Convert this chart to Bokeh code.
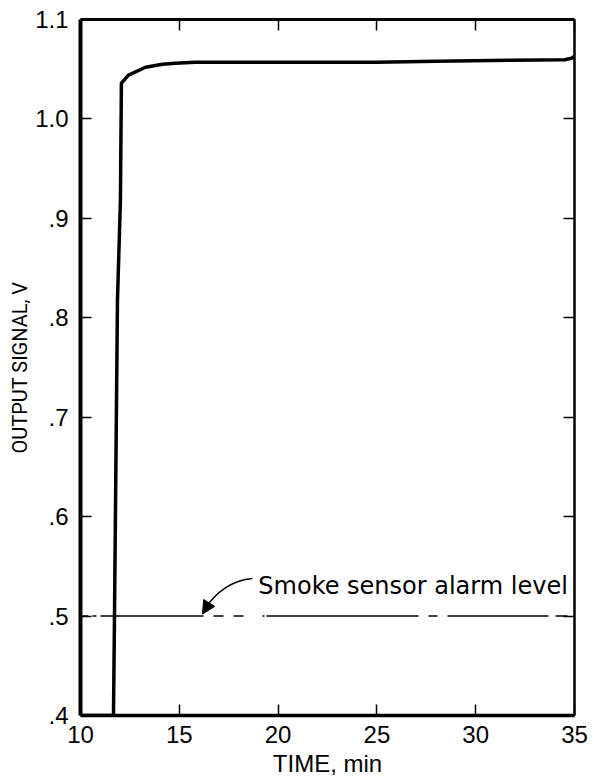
from bokeh.plotting import figure
from bokeh.models import Range1d, LinearAxis, FixedTicker, Arrow, NormalHead
from bokeh.embed import file_html
from bokeh.resources import INLINE
from bokeh.core.properties import value

# ---- data ----
time_min = [10.0, 11.67, 11.72, 11.87, 12.02, 12.07, 12.43, 13.29, 14.15,
            14.81, 15.82, 20.0, 25.0, 28.0, 31.8, 34.5, 34.85, 35.0]
signal_v = [0.400, 0.400, 0.500, 0.817, 0.918, 1.036, 1.044, 1.052, 1.055,
            1.056, 1.057, 1.057, 1.057, 1.058, 1.059, 1.0595, 1.061, 1.063]

alarm_time = [10.1, 35.0]
alarm_level = [0.5, 0.5]

x_ticks = [10, 15, 20, 25, 30, 35]
x_labels = ["10", "15", "20", "25", "30", "35"]
y_ticks = [0.4, 0.5, 0.6, 0.7, 0.8, 0.9, 1.0, 1.1]
y_labels = [".4", ".5", ".6", ".7", ".8", ".9", "1.0", "1.1"]

x_title = "TIME, min"
y_title = "OUTPUT SIGNAL, V"
note_text = "Smoke sensor alarm level"

FONT = "Liberation Sans"

p = figure(frame_width=494, frame_height=696,
           x_range=Range1d(10, 35), y_range=Range1d(0.4, 1.1),
           output_backend="svg", toolbar_location=None,
           min_border_left=80, min_border_right=20,
           min_border_top=19, min_border_bottom=69,
           background_fill_color="white", border_fill_color="white")
p.outline_line_color = None
p.xgrid.visible = False
p.ygrid.visible = False

def style_axis(ax, ticks, labels, lw, show_labels=True):
    ax.ticker = FixedTicker(ticks=ticks)
    ax.major_label_overrides = {t: l for t, l in zip(ticks, labels)}
    ax.axis_line_width = lw
    ax.axis_line_color = "black"
    ax.major_tick_in = 11
    ax.major_tick_out = 0
    ax.major_tick_line_width = 1.5
    ax.major_tick_line_color = "black"
    ax.minor_tick_line_color = None
    ax.major_label_text_font = FONT
    ax.major_label_text_font_size = "24px"
    ax.major_label_text_color = "black"
    if not show_labels:
        ax.major_label_text_font_size = "0px"
        ax.major_label_standoff = 0
        ax.major_label_text_alpha = 0

# bottom / left axes
style_axis(p.xaxis[0], x_ticks, x_labels, 3.5)
p.xaxis[0].major_label_standoff = 10
p.xaxis[0].axis_label = x_title
p.xaxis[0].axis_label_text_font = FONT
p.xaxis[0].axis_label_text_font_size = "24px"
p.xaxis[0].axis_label_text_font_style = "normal"
p.xaxis[0].axis_label_text_color = "black"
p.xaxis[0].axis_label_standoff = 4

style_axis(p.yaxis[0], y_ticks, y_labels, 4)
p.yaxis[0].major_label_standoff = 12
p.yaxis[0].axis_label = y_title
p.yaxis[0].axis_label_text_font = "Roboto"
p.yaxis[0].axis_label_text_font_size = "20px"
p.yaxis[0].axis_label_text_font_style = "normal"
p.yaxis[0].axis_label_text_color = "black"
p.yaxis[0].axis_label_standoff = 0

# top / right axes (frame with inward ticks)
top = LinearAxis()
style_axis(top, x_ticks, x_labels, 3, show_labels=False)
p.add_layout(top, "above")
right = LinearAxis()
style_axis(right, y_ticks, y_labels, 2.5, show_labels=False)
p.add_layout(right, "right")

# alarm level line (irregular hand-drawn dashes)
p.line(alarm_time, alarm_level, line_color="black", line_width=1.5,
       line_dash="6 4 4 4 103 10 10 10 10 19 2 2 152 10 9 10 101 7 12 10")

# signal curve
p.line(time_min, signal_v, line_color="black", line_width=3.5,
       line_join="round")

# annotation with curved arrow
p.text(x=[19.0], y=[0.5307], text=[note_text],
       text_font=value("DejaVu Sans"), text_font_size="24px",
       text_color="black", text_baseline="alphabetic", text_align="left")
p.quadratic(x0=[18.7], y0=[0.5378], x1=[16.25], y1=[0.506],
            cx=[17.2], cy=[0.535], line_color="black", line_width=1.5)
p.add_layout(Arrow(end=NormalHead(size=13, fill_color="black",
                                  line_color="black", line_width=1),
                   x_start=16.48, y_start=0.512, x_end=16.17, y_end=0.502,
                   line_alpha=0))

open("out.html", "w").write(file_html(p, INLINE))
